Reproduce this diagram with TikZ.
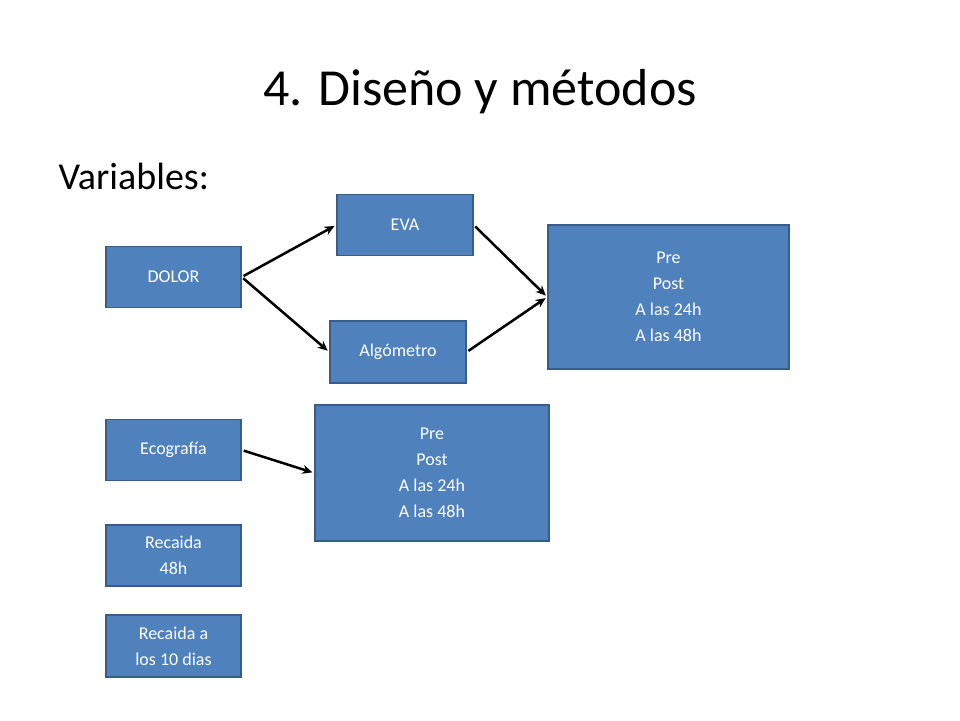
\documentclass[tikz,border=0pt]{standalone}
\usepackage{fontspec}
\setmainfont{Carlito}
\usetikzlibrary{arrows.meta}
\begin{document}
\begin{tikzpicture}[x=1pt,y=-1pt,
  box/.style={draw=blue!40!black!70!cyan!80!black, line width=1.5pt, fill={rgb,255:red,79;green,129;blue,189}, text=white, font=\fontsize{18}{26}\selectfont, align=center, inner sep=0pt},
  arr/.style={-{Stealth[length=10pt,width=9pt,open]}, line width=2.5pt, black, shorten <=2pt, shorten >=2pt}]
\useasboundingbox (0,0) rectangle (960,720);
\tikzset{box/.append style={draw={rgb,255:red,56;green,93;blue,138}}}
\node[font=\fontsize{52}{60}\selectfont] (title) at (480,92) {4. Diseño y métodos};
\node[font=\fontsize{38}{44}\selectfont, anchor=west] (var) at (55,176) {Variables:};
\node[box, minimum width=136pt, minimum height=61pt] (eva) at (405,225) {EVA};
\node[box, minimum width=135pt, minimum height=61pt] (dolor) at (173.5,277) {DOLOR};
\node[box, minimum width=241pt, minimum height=144pt] (pre1) at (668.5,297) {Pre\\Post\\A las 24h\\A las 48h};
\node[box, minimum width=136pt, minimum height=62pt] (alg) at (398,352) {Algómetro};
\node[box, minimum width=135pt, minimum height=61pt] (eco) at (173.5,450) {Ecografía};
\node[box, minimum width=234pt, minimum height=136pt] (pre2) at (432,473) {Pre\\Post\\A las 24h\\A las 48h};
\node[box, minimum width=135pt, minimum height=61pt] (rec1) at (173.5,555.5) {Recaida\\48h};
\node[box, minimum width=135pt, minimum height=62pt] (rec2) at (173.5,646) {Recaida a\\los 10 dias};
\draw[arr] (dolor.east) -- (eva.west);
\draw[arr] (dolor.east) -- (alg.west);
\draw[arr] (eva.east) -- (pre1.west);
\draw[arr] (alg.east) -- (pre1.west);
\draw[arr] (eco.east) -- (pre2.west);
\end{tikzpicture}
\end{document}
